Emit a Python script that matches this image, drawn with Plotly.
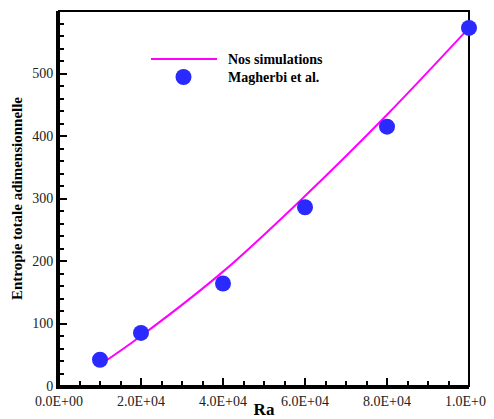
import plotly.graph_objects as go

# Data
ra_sim = [10000, 20000, 40000, 60000, 80000, 100000]
s_sim = [34, 80, 183, 304, 434, 573]
ra_ref = [10000, 20000, 40000, 60000, 80000, 100000]
s_ref = [42, 85, 164, 286, 415, 573]
x_tickvals = [0, 20000, 40000, 60000, 80000, 100000]
x_ticktext = ["0.0E+00", "2.0E+04", "4.0E+04", "6.0E+04", "8.0E+04", "1.0E+05"]
y_tickvals = [0, 100, 200, 300, 400, 500, 600]

FONT = "Liberation Serif"
MAG = "#ff00ff"
BLUE = "rgb(42,42,255)"

# page body margin offset compensation
OFF = 8
W, H = 494 - OFF, 419 - OFF
L, R, T, B = 59 - OFF, 25, 11 - OFF, 33
PW, PH = W - L - R, H - T - B


def px(xp):
    return (xp - 59) / PW


def py(yp):
    return (386 - yp) / PH


fig = go.Figure()
fig.add_trace(go.Scatter(x=ra_sim, y=s_sim, mode="lines", line=dict(color=MAG, width=2, shape="spline"),
                         name="Nos simulations", showlegend=False, cliponaxis=False))
fig.add_trace(go.Scatter(x=ra_ref, y=s_ref, mode="markers", marker=dict(color=BLUE, size=16),
                         name="Magherbi et al.", showlegend=False, cliponaxis=False))

# frame (top/right thin lines)
fig.add_shape(type="rect", xref="paper", yref="paper", x0=0, y0=0, x1=1, y1=1,
              line=dict(color="black", width=2), layer="below")

# legend drawn manually
fig.add_shape(type="line", xref="paper", yref="paper",
              x0=px(151), x1=px(217), y0=py(59), y1=py(59),
              line=dict(color=MAG, width=2))
fig.add_shape(type="circle", xref="paper", yref="paper",
              x0=px(183.5 - 8), x1=px(183.5 + 8), y0=py(77 + 8), y1=py(77 - 8),
              fillcolor=BLUE, line=dict(width=0))
fig.add_annotation(xref="paper", yref="paper", x=px(226), y=py(59),
                   text="<b>Nos simulations</b>", showarrow=False, xanchor="left", yanchor="middle",
                   font=dict(family=FONT, size=14, color="black"))
fig.add_annotation(xref="paper", yref="paper", x=px(226), y=py(77),
                   text="<b>Magherbi et al.</b>", showarrow=False, xanchor="left", yanchor="middle",
                   font=dict(family=FONT, size=14, color="black"))

fig.update_layout(
    width=W, height=H,
    margin=dict(l=L, r=R, t=T, b=B, autoexpand=False),
    paper_bgcolor="white", plot_bgcolor="white",
    font=dict(family=FONT, size=14, color="#222"),
    showlegend=False,
)
fig.update_xaxes(
    range=[0, 100000], tickvals=x_tickvals, ticktext=x_ticktext, automargin=False,
    showgrid=False, zeroline=False, showline=True, linecolor="black", linewidth=3,
    ticks="inside", ticklen=8, tickwidth=2, tickcolor="black",
    minor=dict(dtick=5000, ticks="inside", ticklen=5, tickwidth=1.5, tickcolor="black", showgrid=False),
    tickfont=dict(family=FONT, size=14, color="#222"),
    title=dict(text="<b>Ra</b>", font=dict(family=FONT, size=17, color="black"), standoff=0),
)
fig.update_yaxes(
    range=[0, 600], tickvals=y_tickvals, automargin=False,
    showgrid=False, zeroline=False, showline=True, linecolor="black", linewidth=3,
    ticks="inside", ticklen=8, tickwidth=2, tickcolor="black",
    minor=dict(dtick=20, ticks="inside", ticklen=5, tickwidth=1.5, tickcolor="black", showgrid=False),
    tickfont=dict(family=FONT, size=14, color="#222"),
    title=dict(text="<b>Entropie totale adimensionnelle</b>", font=dict(family=FONT, size=15, color="black"), standoff=6),
)

fig.write_html("out.html")
